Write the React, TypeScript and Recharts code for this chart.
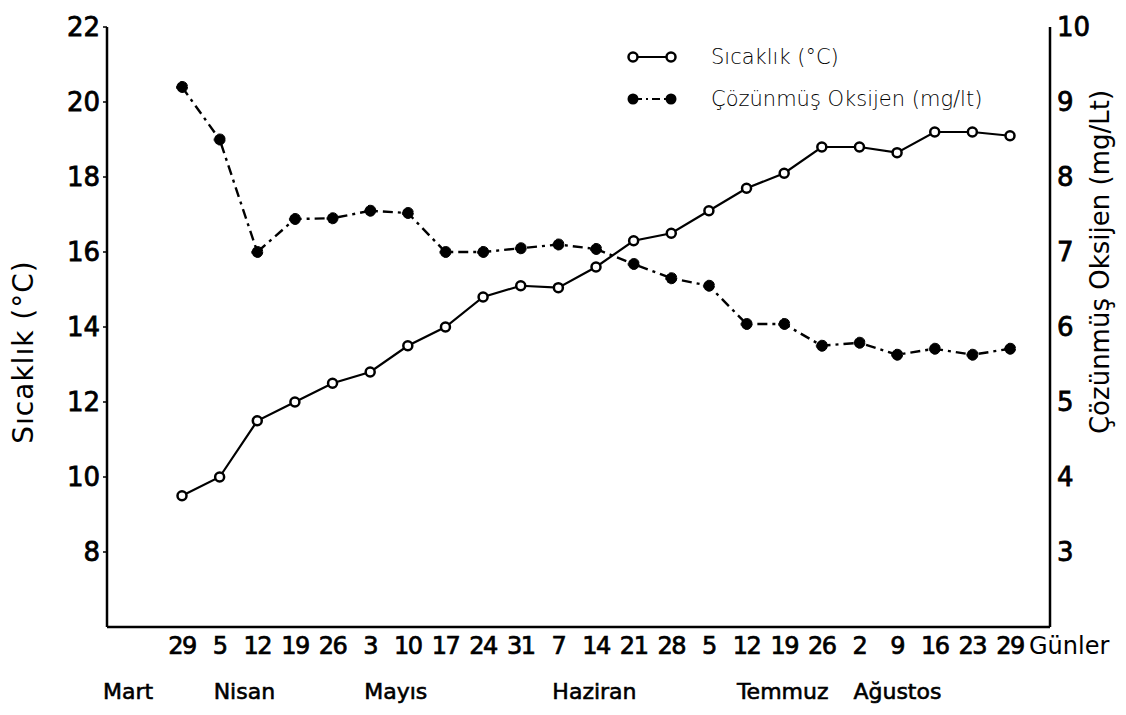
import { Line, LineChart, XAxis, YAxis } from "recharts";

const days = ["29", "5", "12", "19", "26", "3", "10", "17", "24", "31", "7", "14", "21", "28", "5", "12", "19", "26", "2", "9", "16", "23", "29"];
const months = [
  "Mart",
  "Nisan", "Nisan", "Nisan", "Nisan",
  "Mayıs", "Mayıs", "Mayıs", "Mayıs", "Mayıs",
  "Haziran", "Haziran", "Haziran", "Haziran",
  "Temmuz", "Temmuz", "Temmuz", "Temmuz",
  "Ağustos", "Ağustos", "Ağustos", "Ağustos", "Ağustos",
];
// Sıcaklık (°C)
const temperature = [9.5, 10.0, 11.5, 12.0, 12.5, 12.8, 13.5, 14.0, 14.8, 15.1, 15.05, 15.6, 16.3, 16.5, 17.1, 17.7, 18.1, 18.8, 18.8, 18.65, 19.2, 19.2, 19.1];
// Çözünmüş oksijen (mg/lt)
const oxygen = [9.2, 8.5, 7.0, 7.44, 7.45, 7.55, 7.52, 7.0, 7.0, 7.05, 7.1, 7.04, 6.84, 6.65, 6.55, 6.04, 6.04, 5.75, 5.79, 5.63, 5.71, 5.63, 5.71];
const tempTicks = [8, 10, 12, 14, 16, 18, 20, 22];
const oxyTicks = [3, 4, 5, 6, 7, 8, 9, 10];

const data = days.map((d, i) => ({ i, day: d, temp: temperature[i], oxy: oxygen[i] }));

const FONT = '"DejaVu Sans", "Noto Sans", sans-serif';
const MONTH_DX: Record<string, number> = { Mart: -79, Temmuz: 28 };

function DayTick(props: any) {
  const { x, y, payload } = props;
  const i = payload.value as number;
  const firstOfMonth = i === 0 || months[i] !== months[i - 1];
  const dx = MONTH_DX[months[i]] ?? -6;
  return (
    <g fontFamily={FONT} fill="#000">
      <text x={x} y={y + 27} textAnchor="middle" fontSize={24} letterSpacing={-1.5} stroke="#000" strokeWidth={0.7}>
        {days[i]}
      </text>
      {firstOfMonth && (
        <text x={x + dx} y={y + 72} textAnchor="start" fontSize={22} stroke="#000" strokeWidth={0.6}>
          {months[i]}
        </text>
      )}
      {i === days.length - 1 && (
        <text x={x + 19} y={y + 27} textAnchor="start" fontSize={24}>
          Günler
        </text>
      )}
    </g>
  );
}

function LeftTitle(props: any) {
  const vb = props.viewBox;
  const cx = vb.x + 23;
  const cy = vb.y + vb.height / 2 + 25;
  return (
    <text x={cx} y={cy} transform={`rotate(-90 ${cx} ${cy})`} textAnchor="middle" dominantBaseline="central" fontSize={28} letterSpacing={1} fontFamily={FONT} fill="#000">
      Sıcaklık (°C)
    </text>
  );
}

function RightTitle(props: any) {
  const vb = props.viewBox;
  const cx = vb.x + 50;
  const cy = vb.y + vb.height / 2 - 65;
  return (
    <text x={cx} y={cy} transform={`rotate(-90 ${cx} ${cy})`} textAnchor="middle" dominantBaseline="central" fontSize={26} fontFamily={FONT} fill="#000">
      Çözünmüş Oksijen (mg/Lt)
    </text>
  );
}

function LegendBox() {
  return (
    <div style={{ position: "absolute", left: 625, top: 36, fontFamily: FONT, fontSize: 21, fontWeight: 300, color: "#000", lineHeight: "42px" }}>
      <div style={{ display: "flex", alignItems: "center" }}>
        <svg width={56} height={20}>
          <line x1={9} y1={10} x2={45} y2={10} stroke="#000" strokeWidth={2.2} />
          <circle cx={8} cy={10} r={4.5} fill="#fff" stroke="#000" strokeWidth={2.5} />
          <circle cx={46} cy={10} r={4.5} fill="#fff" stroke="#000" strokeWidth={2.5} />
        </svg>
        <span style={{ marginLeft: 30 }}>Sıcaklık (°C)</span>
      </div>
      <div style={{ display: "flex", alignItems: "center" }}>
        <svg width={56} height={20}>
          <line x1={9} y1={10} x2={45} y2={10} stroke="#000" strokeWidth={2.2} strokeDasharray="8 4 2 4" />
          <circle cx={8} cy={10} r={5.5} fill="#000" />
          <circle cx={46} cy={10} r={5.5} fill="#000" />
        </svg>
        <span style={{ marginLeft: 30 }}>Çözünmüş Oksijen (mg/lt)</span>
      </div>
    </div>
  );
}

export default function App() {
  return (
    <div style={{ position: "absolute", left: 0, top: 0, width: 1126, height: 715, background: "#fff" }}>
      <LineChart width={1126} height={715} data={data} margin={{ top: 27, right: 0, bottom: 0, left: 0 }}>
        <XAxis
          dataKey="i"
          type="category"
          interval={0}
          height={88}
          padding={{ left: 75, right: 40 }}
          axisLine={{ stroke: "#000", strokeWidth: 2.5 }}
          tickLine={false}
          tickSize={0}
          tickMargin={0}
          tick={<DayTick />}
        />
        <YAxis
          yAxisId="t"
          orientation="left"
          width={107}
          domain={[6, 22]}
          ticks={tempTicks}
          allowDataOverflow
          axisLine={{ stroke: "#000", strokeWidth: 2.5 }}
          tickLine={{ stroke: "#000", strokeWidth: 1.5 }}
          tickSize={4}
          tickMargin={3}
          tick={{ fontSize: 26, fill: "#000", fontFamily: FONT, stroke: "#000", strokeWidth: 0.8 }}
          label={{ content: <LeftTitle /> }}
        />
        <YAxis
          yAxisId="o"
          orientation="right"
          width={76}
          domain={[2, 10]}
          ticks={oxyTicks}
          allowDataOverflow
          axisLine={{ stroke: "#000", strokeWidth: 2.5 }}
          tickLine={false}
          tickSize={3}
          tickMargin={4}
          tick={{ fontSize: 26, fill: "#000", fontFamily: FONT, stroke: "#000", strokeWidth: 0.8 }}
          label={{ content: <RightTitle /> }}
        />
        <Line
          yAxisId="o"
          dataKey="oxy"
          type="linear"
          stroke="#000"
          strokeWidth={2.4}
          strokeDasharray="10 5 3 5"
          dot={{ r: 5.5, fill: "#000", stroke: "#000", strokeWidth: 1 }}
          activeDot={false}
          isAnimationActive={false}
        />
        <Line
          yAxisId="t"
          dataKey="temp"
          type="linear"
          stroke="#000"
          strokeWidth={2.2}
          dot={{ r: 4.5, fill: "#fff", stroke: "#000", strokeWidth: 2.5 }}
          activeDot={false}
          isAnimationActive={false}
        />
      </LineChart>
      <LegendBox />
    </div>
  );
}
